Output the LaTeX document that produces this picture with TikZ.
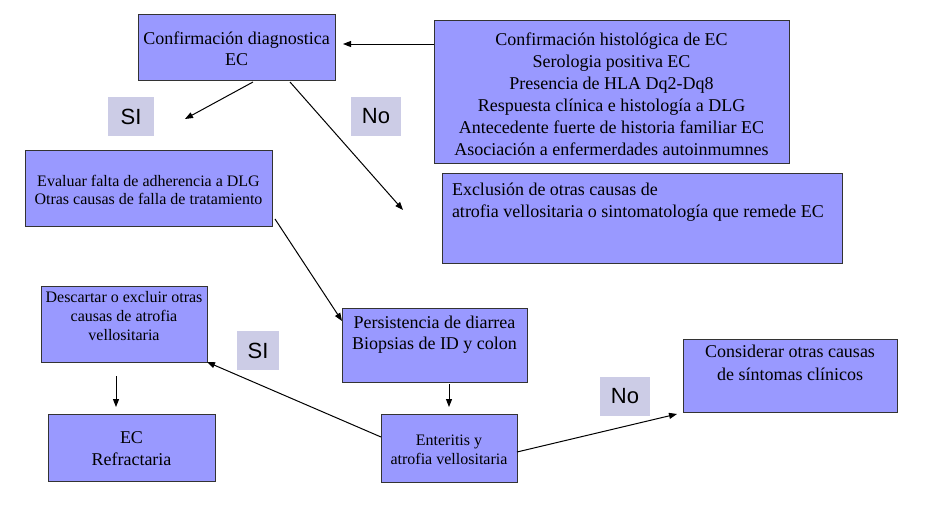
\documentclass[tikz,border=0pt]{standalone}
\usepackage{fontspec}
\setmainfont{Liberation Serif}
\newfontfamily\labelfont{Liberation Sans}
\usetikzlibrary{arrows.meta,calc}
\definecolor{boxblue}{RGB}{153,153,255}
\definecolor{lablav}{RGB}{204,204,230}
\definecolor{boxedge}{RGB}{51,51,51}
\tikzset{
  box/.style={draw=boxedge, line width=1pt, fill=boxblue, inner sep=0pt, outer sep=0pt, anchor=north west},
  bigA/.style={font=\fontsize{18}{21.5}\selectfont},
  bigB/.style={font=\fontsize{18}{22}\selectfont},
  bigC/.style={font=\fontsize{18}{23}\selectfont},
  smallA/.style={font=\fontsize{16}{18.5}\selectfont},
  smallB/.style={font=\fontsize{16}{19}\selectfont},
  txt/.style={inner sep=0pt, outer sep=0pt, align=center, anchor=north},
  ctxt/.style={inner sep=0pt, outer sep=0pt, align=center, anchor=center},
  lab/.style={fill=lablav, inner sep=0pt, outer sep=0pt, anchor=north west, font=\labelfont\fontsize{22}{22}\selectfont},
  arr/.style={draw=black, line width=1pt, -{Triangle[length=8pt,width=6pt]}},
}
\begin{document}
\begin{tikzpicture}[x=1pt,y=-1pt]
\fill[white] (0,0) rectangle (952,522);
\useasboundingbox (0,0) rectangle (952,522);

% boxes
\node[box,minimum width=197pt,minimum height=66pt] (b1) at (138,14) {};
\node[ctxt,bigA] (t1) at ($(b1.center)+(0,2)$) {Confirmación diagnostica\\EC};
\node[box,minimum width=355pt,minimum height=143pt] (b2) at (434,20) {};
\node[ctxt,bigB] (t2) at ($(b2.center)+(0,3)$) {Confirmación histológica de EC\\Serologia positiva EC\\Presencia de HLA Dq2-Dq8\\Respuesta clínica e histología a DLG\\Antecedente fuerte de historia familiar EC\\Asociación a enfermerdades autoinmumnes};
\node[box,minimum width=247pt,minimum height=76pt] (b3) at (25,150) {};
\node[ctxt,smallA] (t3) at ($(b3.center)+(0,2)$) {Evaluar falta de adherencia a DLG\\Otras causas de falla de tratamiento};
\node[box,minimum width=400pt,minimum height=90pt] (b4) at (442,173) {};
\node[txt,bigA,align=left,anchor=north west] (t4) at (452,183) {Exclusión de otras causas de\\atrofia vellositaria o sintomatología que remede EC};
\node[box,minimum width=185pt,minimum height=74pt] (b5) at (342,308) {};
\node[txt,bigA] (t5) at (434.5,316) {Persistencia de diarrea\\Biopsias de ID y colon};
\node[box,minimum width=166pt,minimum height=76pt] (b6) at (41,286) {};
\node[txt,smallB] (t6) at (124,291) {Descartar o excluir otras\\causas de atrofia\\vellositaria};
\node[box,minimum width=214pt,minimum height=73pt] (b7) at (683,339) {};
\node[txt,bigC] (t7) at (790,345) {Considerar otras causas\\de síntomas clínicos};
\node[box,minimum width=167pt,minimum height=67pt] (b8) at (48,414) {};
\node[ctxt,bigB] (t8) at ($(b8.center)+(0,1)$) {EC\\Refractaria};
\node[box,minimum width=136pt,minimum height=68pt] (b9) at (381,414) {};
\node[ctxt,smallB] (t9) at ($(b9.center)+(0,2)$) {Enteritis y\\atrofia vellositaria};

% labels
\node[lab,minimum width=46pt,minimum height=39pt] (l1) at (108,97) {SI};
\node[lab,minimum width=50pt,minimum height=39pt] (l2) at (351,97) {No};
\node[lab,minimum width=42pt,minimum height=39pt] (l3) at (237,331) {SI};
\node[lab,minimum width=50pt,minimum height=39pt] (l4) at (600,377) {No};

% connectors
\coordinate (a1) at (343,44);
\draw[arr] (b2.west |- a1) -- (a1);
\coordinate (a2) at (185,119);
\draw[arr] ($(b1.south west)+(115,2)$) -- (a2);
\coordinate (a3) at (403,210);
\draw[arr] ($(b1.south west)+(152,2)$) -- (a3);
\draw[arr] ($(b3.south east)+(3,-7)$) -- ($(b5.north west)+(0,13)$);
\draw[arr, shorten >=7pt, shorten <=2pt] (b9.north |- b5.south) -- (b9.north);
\draw[arr] ($(b9.north west)+(0,23)$) -- (b6.south east);
\coordinate (a4) at (677,414);
\draw[arr] ($(b9.south east)+(0,-30)$) -- (a4);
\coordinate (a5) at (116,407);
\draw[arr] ($(b6.south west)+(75,14)$) -- (a5);
\end{tikzpicture}
\end{document}
